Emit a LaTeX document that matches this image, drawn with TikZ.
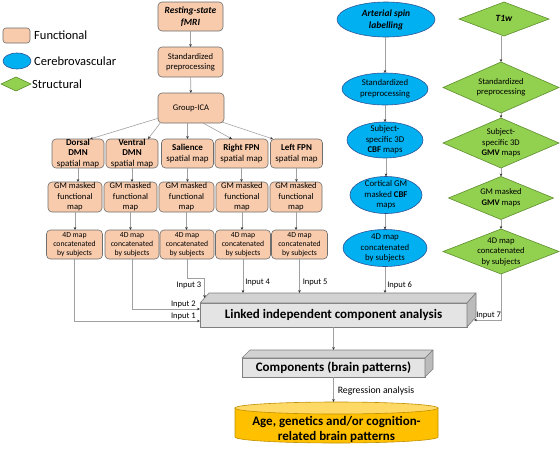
\documentclass[tikz,border=0pt]{standalone}
\usepackage{fontspec}
\setmainfont{Carlito}
\usetikzlibrary{shapes.geometric,arrows.meta,calc}
\definecolor{funcfill}{HTML}{F8CBAD}
\definecolor{funcdraw}{HTML}{6E6E6E}
\definecolor{cbvfill}{HTML}{00B0F0}
\definecolor{cbvdraw}{HTML}{2F5597}
\definecolor{strfill}{HTML}{92D050}
\definecolor{strdraw}{HTML}{5E8E2E}
\definecolor{boxfront}{HTML}{E4E4E4}
\definecolor{boxtop}{HTML}{D2D2D2}
\definecolor{boxside}{HTML}{BBBBBB}
\definecolor{boxdraw}{HTML}{7F7F7F}
\definecolor{cylbody}{HTML}{FFC000}
\definecolor{cyltop}{HTML}{FFD966}
\definecolor{cyldraw}{HTML}{BF9000}
\definecolor{linecol}{HTML}{A0A0A0}
\definecolor{tipcol}{HTML}{303030}
\newcommand\ztext[1]{\makebox[0pt]{\smash{\raisebox{-0.25em}{\begin{tabular}{@{}c@{}}#1\end{tabular}}}}}
\tikzset{
  func/.style={rectangle, rounded corners=4pt, draw=funcdraw, fill=funcfill, line width=0.6pt, align=center, inner sep=0pt, outer sep=0pt},
  cbv/.style={ellipse, draw=cbvdraw, fill=cbvfill, line width=0.6pt, inner sep=0pt, outer sep=0pt},
  strc/.style={diamond, draw=strdraw, fill=strfill, line width=0.6pt, inner sep=0pt, outer sep=0pt},
  box3d/.style={rectangle, draw=boxdraw, fill=boxfront, line width=0.6pt, inner sep=0pt, outer sep=0pt},
  face/.style={draw=boxdraw, line width=0.6pt, line join=round},
  arr/.style={draw=linecol, line width=0.6pt, -{Stealth[length=3pt,width=2.6pt,color=tipcol]}},
  fs/.style={font=\fontsize{8.6}{10.5}\selectfont},
  fsp/.style={font=\fontsize{9}{10.6}\selectfont},
  fsm/.style={font=\fontsize{7.7}{9}\selectfont},
  fse/.style={font=\fontsize{8.8}{10.8}\selectfont},
  ftitle/.style={font=\fontsize{9.5}{12}\selectfont\bfseries\itshape},
  leg/.style={anchor=west, inner sep=0pt, font=\fontsize{12.5}{14}\selectfont},
  lab/.style={inner sep=1pt, font=\fontsize{8.5}{10}\selectfont},
  big/.style={font=\fontsize{13}{15}\selectfont\bfseries}
}
\begin{document}
\begin{tikzpicture}[x=1pt,y=-1pt]
\useasboundingbox (0,0) rectangle (560,448);
% legend
\node[func, rounded corners=3pt, minimum width=27, minimum height=15] (lf) at (16.5,35.5) {};
\node[leg] (lft) at (34,35.5) {Functional};
\node[cbv, minimum width=28, minimum height=16] (le) at (17,61) {};
\node[leg] (let) at (34,61) {Cerebrovascular};
\node[strc, minimum width=30, minimum height=14] (ld) at (16,84) {};
\node[leg] (ldt) at (32,84) {Structural};
% functional column
\node[func, ftitle, minimum width=65, minimum height=29] (rs) at (190.5,16.5) {Resting-state\\fMRI};
\node[func, fs, minimum width=65, minimum height=30] (sp) at (190.5,62) {Standardized\\preprocessing};
\node[func, fs, minimum width=66, minimum height=30] (gica) at (191,108) {Group-ICA};
\node[func, fsp, minimum width=52, minimum height=29] (s1) at (78,153.5) {\textbf{Dorsal}\\\textbf{DMN}\\spatial map};
\node[func, fsp, minimum width=52, minimum height=29] (s2) at (132,153.5) {\textbf{Ventral}\\\textbf{DMN}\\spatial map};
\node[func, fsp, minimum width=52, minimum height=29] (s3) at (187.5,153.5) {\textbf{Salience}\\spatial map};
\node[func, fsp, minimum width=53, minimum height=29] (s4) at (241.5,153.5) {\textbf{Right FPN}\\spatial map};
\node[func, fsp, minimum width=52, minimum height=29] (s5) at (296.5,153.5) {\textbf{Left FPN}\\spatial map};
\node[func, fs, minimum width=54, minimum height=30] (g1) at (75,197) {GM masked\\functional\\map};
\node[func, fs, minimum width=53, minimum height=30] (g2) at (130.5,197) {GM masked\\functional\\map};
\node[func, fs, minimum width=55, minimum height=30] (g3) at (186.5,197) {GM masked\\functional\\map};
\node[func, fs, minimum width=52, minimum height=30] (g4) at (242,197) {GM masked\\functional\\map};
\node[func, fs, minimum width=52, minimum height=30] (g5) at (296,197) {GM masked\\functional\\map};
\node[func, fsm, minimum width=56, minimum height=29] (f1) at (74.5,244.5) {4D map\\concatenated\\by subjects};
\node[func, fsm, minimum width=54, minimum height=29] (f2) at (132,244.5) {4D map\\concatenated\\by subjects};
\node[func, fsm, minimum width=54, minimum height=29] (f3) at (187,244.5) {4D map\\concatenated\\by subjects};
\node[func, fsm, minimum width=55, minimum height=29] (f4) at (243,244.5) {4D map\\concatenated\\by subjects};
\node[func, fsm, minimum width=56, minimum height=29] (f5) at (299.5,244.5) {4D map\\concatenated\\by subjects};
% cerebrovascular column
\node[cbv, ftitle, minimum width=98, minimum height=35] (a1) at (386,19.5) {\ztext{Arterial spin\\labelling}};
\node[cbv, fse, minimum width=86, minimum height=32] (a2) at (385,89) {\ztext{Standardized\\preprocessing}};
\node[cbv, fse, minimum width=76, minimum height=36] (a3) at (385,140) {\ztext{Subject-\\specific 3D\\\textbf{CBF} maps}};
\node[cbv, fse, minimum width=72, minimum height=37] (a4) at (386,195) {\ztext{Cortical GM\\masked \textbf{CBF}\\maps}};
\node[cbv, fse, minimum width=84, minimum height=37] (a5) at (385,248) {\ztext{4D map\\concatenated\\by subjects}};
% structural column
\node[strc, ftitle, minimum width=90, minimum height=34] (d1) at (504,19) {\ztext{T1w}};
\node[strc, fs, minimum width=116, minimum height=51] (d2) at (501,87.5) {\ztext{Standardized\\preprocessing}};
\node[strc, fs, minimum width=116, minimum height=50] (d3) at (501,143) {\ztext{Subject-\\specific 3D\\\textbf{GMV} maps}};
\node[strc, fs, minimum width=105, minimum height=43] (d4) at (501,198) {\ztext{GM masked\\\textbf{GMV} maps}};
\node[strc, fs, minimum width=116, minimum height=45] (d5) at (501,251.5) {\ztext{4D map\\concatenated\\by subjects}};
% linked ICA box
\node[box3d, big, minimum width=267, minimum height=24] (lica) at (333.5,315) {Linked independent component analysis};
\filldraw[face, fill=boxtop] (lica.north west) -- ++(9,-10) -- ++(267,0) -- (lica.north east) -- cycle;
\filldraw[face, fill=boxside] (lica.north east) -- ++(9,-10) -- ++(0,24) -- (lica.south east) -- cycle;
\coordinate (ltop) at ($(lica.north)+(9,-10)$);
% components box
\node[box3d, big, minimum width=183, minimum height=19] (comp) at (333.5,367.5) {Components (brain patterns)};
\filldraw[face, fill=boxtop] (comp.north west) -- ++(8,-8) -- ++(183,0) -- (comp.north east) -- cycle;
\filldraw[face, fill=boxside] (comp.north east) -- ++(8,-8) -- ++(0,19) -- (comp.south east) -- cycle;
\coordinate (ctop) at ($(comp.north)+(8,-8)$);
% cylinder
\filldraw[draw=cyldraw, fill=cylbody, line width=0.6pt] (235,408) -- (235,437) arc[start angle=180, end angle=360, x radius=101.5pt, y radius=6pt] -- (438,408) -- cycle;
\filldraw[draw=cyldraw, fill=cyltop, line width=0.6pt] (336.5,408) ellipse[x radius=101.5pt, y radius=6pt];
\coordinate (cyltopc) at (336.5,402);
\node[big, align=center, inner sep=0pt] (out) at (336.5,429.5) {Age, genetics and/or cognition-\\related brain patterns};
% arrows functional
\draw[arr] (rs) -- (sp);
\draw[arr] (sp) -- (gica);
\draw[arr] ($(gica.west)+(1,10)$) -- ($(s1.north)+(12,0)$);
\draw[arr] ($(gica.south west)+(3,-1)$) -- ($(s2.north)+(16,0)$);
\draw[arr] (gica.south -| s3.north) -- (s3.north);
\draw[arr] ($(gica.south)+(12,0)$) -- ($(s4.north)+(-9.5,0)$);
\draw[arr] ($(gica.south east)+(-2,-1)$) -- ($(s5.north)+(-23.5,0)$);
\foreach \i in {1,...,5}{
  \draw[arr] (s\i.south) -- (s\i.south |- g\i.north);
  \draw[arr] (g\i.south) -- (g\i.south |- f\i.north);
}
% arrows cerebrovascular / structural
\draw[arr] (a1.south -| a2.north) -- (a2.north);
\draw[arr] (a2) -- (a3);
\draw[arr] (a3.south -| a4.north) -- (a4.north);
\draw[arr] (a4.south -| a5.north) -- (a5.north);
\draw[arr] (d1.south -| d2.north) -- (d2.north);
\draw[arr] (d2) -- (d3);
\draw[arr] (d3) -- (d4);
\draw[arr] (d4) -- (d5);
% inputs
\coordinate (in1) at ($(lica.south west)+(0,-6)$);
\coordinate (in2) at ($(lica.west)+(0,-6)$);
\coordinate (in3) at ($(lica.north west)+(4.5,-5)$);
\coordinate (in7) at ($(lica.south east)+(7,-7)$);
\draw[arr] (f1.south) |- (in1) node[lab, pos=1, anchor=south east, xshift=-3pt] {Input 1};
\draw[arr] (f2.south) |- (in2) node[lab, pos=1, anchor=south east, xshift=-3pt] {Input 2};
\draw[arr] (f3.south) -- ++(0,19) -| (in3) node[lab, pos=1, anchor=east, xshift=-2pt, yshift=13pt] {Input 3};
\draw[arr] (f4.south) -- (f4.south |- ltop) node[lab, pos=0.68, anchor=west, xshift=1pt] {Input 4};
\draw[arr] (f5.south) -- (f5.south |- ltop) node[lab, pos=0.68, anchor=west, xshift=2pt] {Input 5};
\draw[arr] (a5.south) -- (a5.south |- ltop) node[lab, pos=0.7, anchor=west, xshift=1pt] {Input 6};
\draw[arr] (d5.south) |- (in7) node[lab, pos=1, anchor=south west, xshift=1pt] {Input 7};
% bottom arrows
\draw[arr] (lica.south) -- (lica.south |- ctop);
\draw[arr] (comp.south) -- (comp.south |- cyltopc) node[pos=0.55, anchor=west, xshift=3pt, inner sep=1pt, font=\fontsize{9.8}{11}\selectfont] {Regression analysis};
\end{tikzpicture}
\end{document}
